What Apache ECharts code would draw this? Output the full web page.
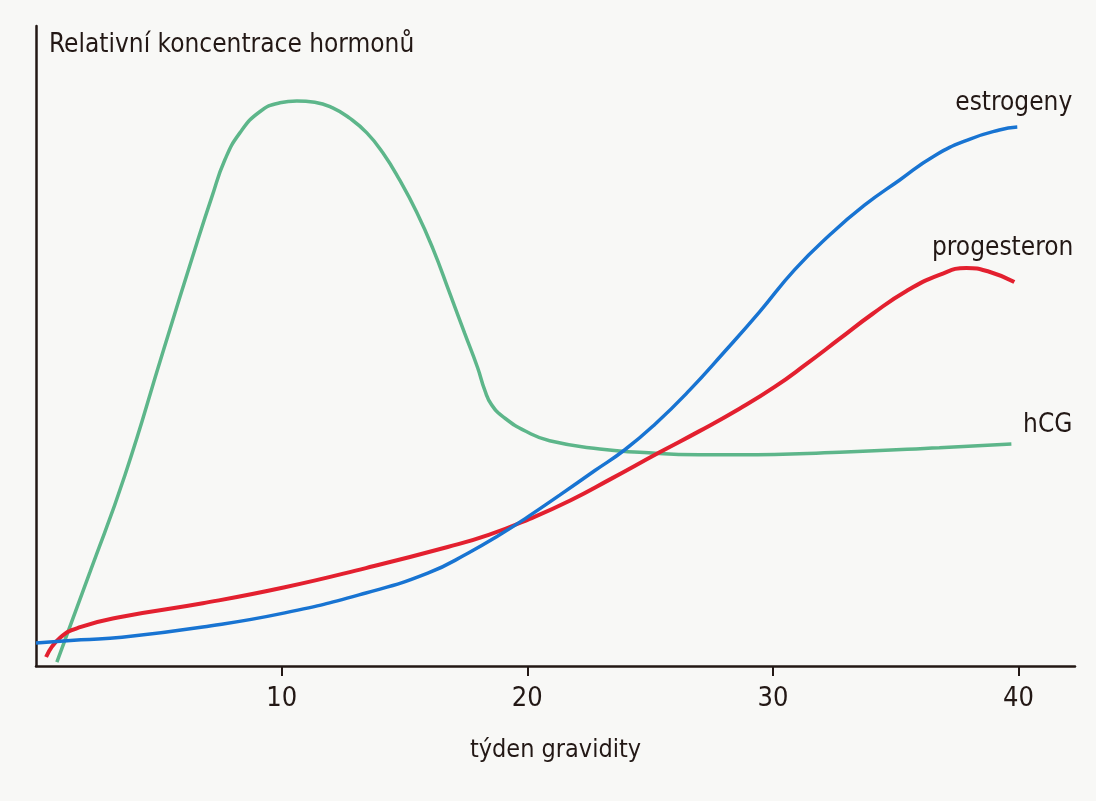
<!DOCTYPE html>
<html>
<head>
<meta charset="utf-8">
<script src="https://cdn.jsdelivr.net/npm/echarts@6/dist/echarts.min.js"></script>
<style>
html,body{margin:0;padding:0;background:#f8f8f6;}
#chart{width:1096px;height:801px;}
</style>
</head>
<body>
<div id="chart"></div>
<script>
// Week of pregnancy (x) and relative hormone concentration (y, 0–100)
var xTicks = [10, 20, 30, 40];

var hcgWeeks  = [0.85, 2.20, 3.62, 5.17, 6.55, 7.16, 7.69, 8.30, 9.11, 9.93, 10.62, 11.35, 12.08, 12.77, 13.47, 14.12, 14.81, 15.50, 16.15, 16.84, 17.45, 17.98, 18.27, 18.55, 19.08, 19.98, 20.91, 22.95, 24.57, 27.01, 28.64, 32.71, 36.78, 39.71];
var hcgValues = [0.6, 14.7, 29.8, 49.1, 66.1, 73.3, 79.1, 83.3, 86.6, 88.0, 88.3, 88.1, 87.2, 85.6, 83.3, 80.2, 75.9, 70.9, 65.3, 58.3, 52.0, 46.6, 43.1, 40.8, 38.75, 36.6, 35.2, 33.9, 33.4, 33.0, 33.0, 33.4, 34.1, 34.7];

var estWeeks  = [0, 1.83, 3.50, 6.79, 10.13, 13.43, 15.95, 17.62, 18.88, 20.02, 21.32, 22.74, 23.96, 25.18, 26.61, 28.03, 29.45, 30.88, 32.30, 33.73, 35.15, 36.57, 38.00, 39.22, 39.95];
var estValues = [3.6, 4.1, 4.5, 6.1, 8.3, 11.4, 14.5, 17.7, 20.5, 23.3, 26.7, 30.5, 33.75, 37.7, 43.1, 49.1, 55.3, 61.9, 67.3, 72.0, 75.9, 79.7, 82.3, 83.75, 84.2];

var progWeeks  = [0.41, 0.98, 1.83, 3.50, 6.79, 10.13, 13.43, 16.76, 18.43, 20.10, 21.77, 23.39, 25.39, 27.01, 28.64, 30.07, 31.37, 32.71, 34.05, 35.44, 36.78, 37.88, 38.81, 39.83];
var progValues = [1.4, 4.4, 6.1, 7.7, 9.8, 12.3, 15.3, 18.6, 20.5, 23.0, 25.9, 29.2, 33.4, 36.7, 40.2, 43.6, 47.2, 51.1, 55.0, 58.6, 61.1, 62.2, 61.6, 60.0];

var seriesNames = ['estrogeny', 'progesteron', 'hCG'];
var yTitle = 'Relativní koncentrace hormonů';
var xTitle = 'týden gravidity';

function pairs(xs, ys) { return xs.map(function (x, i) { return [x, ys[i]]; }); }

var FONT = "'Liberation Sans Narrow', 'DejaVu Sans Condensed', 'Roboto Condensed', sans-serif";
var INK = '#231815';

var chart = echarts.init(document.getElementById('chart'), null, { renderer: 'canvas' });

function endLbl(dx, dy) {
  return {
    show: true,
    formatter: '{a}',
    color: INK,
    fontFamily: FONT,
    fontSize: 26,
    align: 'right',
    verticalAlign: 'middle',
    distance: 0,
    offset: [dx, dy]
  };
}

chart.setOption({
  backgroundColor: '#f8f8f6',
  animation: false,
  title: {
    text: yTitle,
    left: 44,
    top: 27,
    textStyle: { color: INK, fontFamily: FONT, fontSize: 26, fontWeight: 'normal' }
  },
  grid: { left: 36, right: 21, top: 26, bottom: 135, containLabel: false },
  xAxis: {
    type: 'value',
    min: 0,
    max: 42.3,
    interval: 10,
    name: xTitle,
    nameLocation: 'middle',
    nameGap: 72,
    nameTextStyle: { color: INK, fontFamily: FONT, fontSize: 25 },
    axisLine: { show: true, lineStyle: { color: INK, width: 2.5 } },
    axisTick: { show: true, length: 10, lineStyle: { color: INK, width: 2 }, customValues: xTicks },
    axisLabel: { color: INK, fontFamily: FONT, fontSize: 27, margin: 19, customValues: xTicks },
    splitLine: { show: false }
  },
  yAxis: {
    type: 'value',
    min: 0,
    max: 100,
    axisLine: { show: true, lineStyle: { color: INK, width: 2.5 } },
    axisTick: { show: false },
    axisLabel: { show: false },
    splitLine: { show: false }
  },
  series: [
    {
      name: seriesNames[2], type: 'line', smooth: 0.5, showSymbol: false,
      lineStyle: { color: '#5db68a', width: 3.5 },
      data: pairs(hcgWeeks, hcgValues),
      endLabel: endLbl(61, -19), z: 2
    },
    {
      name: seriesNames[1], type: 'line', smooth: 0.5, showSymbol: false,
      lineStyle: { color: '#e3202f', width: 4 },
      data: pairs(progWeeks, progValues),
      endLabel: endLbl(59, -34), z: 3
    },
    {
      name: seriesNames[0], type: 'line', smooth: 0.5, showSymbol: false,
      lineStyle: { color: '#1874d2', width: 3.5 },
      data: pairs(estWeeks, estValues),
      endLabel: endLbl(55, -24), z: 4
    }
  ]
});
</script>
</body>
</html>
